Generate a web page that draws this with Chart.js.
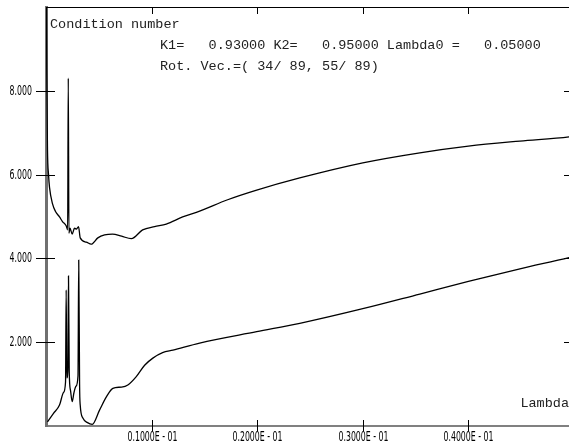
<!DOCTYPE html>
<html>
<head>
<meta charset="utf-8">
<script src="https://cdn.jsdelivr.net/npm/chart.js@4"></script>
<style>
  body { margin: 0; overflow: hidden; background: #fff; }
</style>
</head>
<body>
<canvas id="cond_canvas" width="600" height="447"></canvas>
<script>
// upper curve
let lambdaUpper = [0.00002, 0.00007, 0.00014, 0.00024, 0.00033, 0.00062, 0.0009, 0.00128, 0.00156, 0.00191,
    0.00205, 0.00211, 0.00217, 0.00227, 0.00248, 0.0027, 0.00289, 0.00308, 0.00324, 0.00381,
    0.00428, 0.00491, 0.00555, 0.0063, 0.00716, 0.00808, 0.00915, 0.01028, 0.01139, 0.01294,
    0.01455, 0.0172, 0.01995, 0.02403, 0.03, 0.0354, 0.04, 0.04488, 0.04953, 0.05];
let condUpper = [12, 8.5, 6.6, 6.0, 5.7, 5.3, 5.12, 4.99, 4.88, 4.78,
    4.68, 8.3, 4.6, 4.72, 4.58, 4.72, 4.7, 4.76, 4.49, 4.39,
    4.34, 4.49, 4.56, 4.58, 4.53, 4.47, 4.68, 4.76, 4.82, 4.99,
    5.13, 5.4, 5.63, 5.92, 6.28, 6.52, 6.68, 6.8, 6.9, 6.92];

// lower curve
let lambdaLower = [0.00014, 0.00071, 0.00128, 0.00166, 0.00185, 0.00191, 0.00197, 0.00207, 0.00213, 0.0022,
    0.00232, 0.00248, 0.00265, 0.00284, 0.00303, 0.0031, 0.00318, 0.00324, 0.00349, 0.00393,
    0.00438, 0.00507, 0.00573, 0.00633, 0.00716, 0.00775, 0.00855, 0.00934, 0.01012, 0.01104,
    0.01202, 0.01455, 0.01995, 0.02403, 0.03, 0.0354, 0.04, 0.04488, 0.04953, 0.05];
let condLower = [0.1, 0.3, 0.5, 0.8, 1.05, 3.25, 1.15, 1.35, 3.58, 1.3,
    0.85, 0.58, 0.8, 0.95, 1.2, 3.96, 1.0, 0.5, 0.19, 0.08,
    0.04, 0.38, 0.7, 0.9, 0.93, 0.98, 1.18, 1.45, 1.62, 1.75,
    1.81, 1.98, 2.25, 2.45, 2.8, 3.15, 3.45, 3.75, 4.02, 4.05];

let xTicks = [0.01, 0.02, 0.03, 0.04];
let xTickLabels = ['0.1000E - 01', '0.2000E - 01', '0.3000E - 01', '0.4000E - 01'];
let yTicks = [2, 4, 6, 8];
let yTickLabels = ['2.000', '4.000', '6.000', '8.000'];

let textLines = [
    'Condition number',
    'K1=   0.93000 K2=   0.95000 Lambda0 =   0.05000',
    'Rot. Vec.=( 34/ 89, 55/ 89)'
];
let xAxisTitle = 'Lambda';

function toPoints(xs, ys) {
    return xs.map(function(x, i) { return {x: x, y: ys[i]}; });
}

let monoFont = "'Liberation Mono', 'DejaVu Sans Mono', monospace";

// squeezed tick label, like the old plotter font
function narrowText(ctx, text, x, y, align) {
    let sx = 0.56;
    ctx.save();
    ctx.translate(x, y);
    ctx.scale(sx, 1);
    ctx.textAlign = align;
    ctx.fillText(text, 0, 0);
    ctx.restore();
}

let framePlugin = {
    id: 'frame',
    afterDraw: function(chart) {
        let ctx = chart.ctx;
        let area = chart.chartArea;
        let xs = chart.scales.x;
        let ys = chart.scales.y;
        ctx.save();
        ctx.strokeStyle = '#000';
        ctx.lineWidth = 1;

        // top frame line
        ctx.beginPath();
        ctx.moveTo(area.left, area.top + 0.5);
        ctx.lineTo(area.right, area.top + 0.5);
        ctx.stroke();

        // tick marks crossing the axes + labels
        ctx.fillStyle = '#000';
        ctx.font = '14px "DejaVu Sans"';
        ctx.textBaseline = 'middle';
        ctx.beginPath();
        yTicks.forEach(function(v, i) {
            let py = Math.round(ys.getPixelForValue(v)) + 0.5;
            ctx.moveTo(area.left - 10, py);
            ctx.lineTo(area.left + 9, py);
            ctx.moveTo(area.right - 10, py);
            ctx.lineTo(area.right + 10, py);
            narrowText(ctx, yTickLabels[i], 32, py, 'right');
        });
        xTicks.forEach(function(v, i) {
            let px = Math.round(xs.getPixelForValue(v)) + 0.5;
            ctx.moveTo(px, area.bottom - 6);
            ctx.lineTo(px, area.bottom + 5);
            ctx.moveTo(px, area.top);
            ctx.lineTo(px, area.top + 7);
            narrowText(ctx, xTickLabels[i], px, area.bottom + 11, 'center');
        });
        ctx.stroke();

        // annotation text
        ctx.fillStyle = '#222';
        ctx.font = '13.5px ' + monoFont;
        ctx.textBaseline = 'alphabetic';
        ctx.textAlign = 'left';
        ctx.fillText(textLines[0], 50, 28);
        ctx.fillText(textLines[1], 160, 49);
        ctx.fillText(textLines[2], 160, 70);
        ctx.textAlign = 'right';
        ctx.fillText(xAxisTitle, 569, 407);
        ctx.restore();
    }
};

function noPad(scale) {
    scale.paddingTop = 0;
    scale.paddingBottom = 0;
    scale.paddingLeft = 0;
    scale.paddingRight = 0;
}

let ctx = document.getElementById('cond_canvas').getContext('2d');

let chart = new Chart(ctx, {
    type: 'line',
    data: {
        datasets: [{
            data: toPoints(lambdaUpper, condUpper),
            borderColor: '#000',
            borderWidth: 1.3,
            pointRadius: 0,
            cubicInterpolationMode: 'monotone'
        }, {
            data: toPoints(lambdaLower, condLower),
            borderColor: '#000',
            borderWidth: 1.3,
            pointRadius: 0,
            cubicInterpolationMode: 'monotone'
        }]
    },
    options: {
        responsive: false,
        animation: false,
        devicePixelRatio: 1,
        layout: {
            padding: {top: 7, right: 26, left: 0, bottom: 0}
        },
        plugins: {
            legend: {display: false},
            title: {display: false},
            tooltip: {enabled: false}
        },
        scales: {
            x: {
                type: 'linear',
                min: 0,
                max: 0.05,
                afterBuildTicks: function(scale) {
                    scale.ticks = xTicks.map(function(v) { return {value: v}; });
                },
                afterFit: function(scale) { scale.height = 21; noPad(scale); },
                grid: {display: false, drawOnChartArea: false, drawTicks: false},
                border: {display: true, color: '#808080', width: 2},
                ticks: {display: false}
            },
            y: {
                min: 0,
                max: 10,
                afterBuildTicks: function(scale) {
                    scale.ticks = yTicks.map(function(v) { return {value: v}; });
                },
                afterFit: function(scale) { scale.width = 46; noPad(scale); },
                grid: {display: false, drawOnChartArea: false, drawTicks: false},
                border: {display: true, color: '#707070', width: 3},
                ticks: {display: false}
            }
        }
    },
    plugins: [framePlugin]
});
</script>
</body>
</html>
